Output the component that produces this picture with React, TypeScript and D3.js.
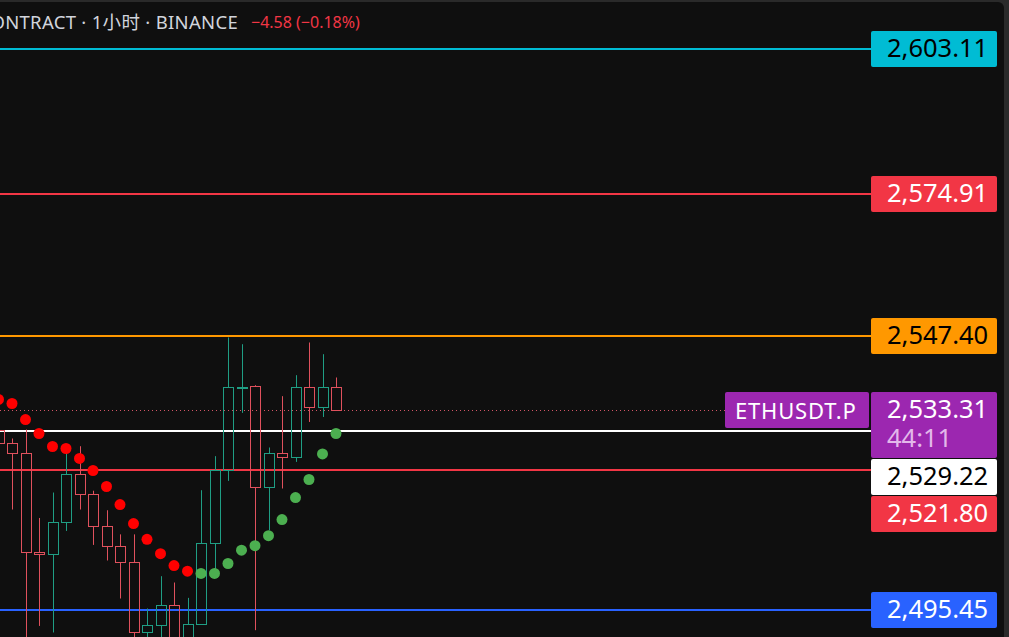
import React from 'react';
import * as d3 from 'd3';

// hourly candles, ETHUSDT.P perpetual
const opens = [2529.59, 2526.93, 2525.03, 2506.39, 2506.05, 2512.13, 2521.04, 2517.43, 2511.22, 2507.49, 2504.52, 2491.23, 2492.54, 2496.30, 2489.41, 2492.73, 2508.13, 2521.90, 2537.61, 2537.86, 2518.76, 2525.03, 2524.38, 2537.72, 2533.91, 2537.72];
const highs = [2532.40, 2527.88, 2529.59, 2512.80, 2517.62, 2525.98, 2526.41, 2517.96, 2514.26, 2509.70, 2509.70, 2495.74, 2501.81, 2500.62, 2497.73, 2518.06, 2524.52, 2547.18, 2545.89, 2538.05, 2526.17, 2535.95, 2539.96, 2546.22, 2543.98, 2539.52];
const lows = [2524.80, 2514.40, 2488.85, 2492.46, 2491.23, 2510.35, 2514.40, 2507.71, 2504.77, 2497.61, 2488.29, 2487.91, 2488.85, 2486.97, 2487.91, 2492.73, 2502.94, 2519.83, 2532.76, 2491.66, 2510.46, 2518.38, 2523.43, 2531.03, 2531.98, 2533.31];
const closes = [2526.93, 2525.03, 2506.39, 2506.05, 2512.13, 2521.04, 2517.43, 2511.22, 2507.49, 2504.52, 2491.23, 2492.54, 2496.30, 2489.41, 2492.73, 2508.13, 2521.90, 2537.61, 2537.75, 2518.76, 2525.03, 2524.38, 2537.72, 2533.91, 2537.72, 2533.31];

// parabolic SAR dots
const sar = [2535.32, 2534.55, 2531.48, 2528.83, 2526.36, 2525.98, 2524.08, 2521.80, 2518.76, 2515.34, 2511.74, 2508.76, 2506.05, 2503.82, 2502.75, 2502.32, 2502.32, 2504.20, 2506.72, 2507.56, 2509.46, 2512.50, 2516.67, 2520.09, 2524.95, 2528.83];

// horizontal levels
const levelPrices = [2603.11, 2574.91, 2547.40, 2529.22, 2521.80, 2495.45];
const levelColors = ['#00bcd4', '#f23645', '#ff9800', '#ffffff', '#f23645', '#2962ff'];
const levelTextColors = ['#000000', '#ffffff', '#000000', '#000000', '#ffffff', '#ffffff'];

const symbol = 'ETHUSDT.P';
const lastPrice = 2533.31;
const countdown = '44:11';
const headerTitle = 'ETHUSDT PERPETUAL CONTRACT · 1小时 · BINANCE';
const headerChange = '−4.58 (−0.18%)';

const W = 1009;
const H = 637;
const FONT = '"Noto Sans", "Noto Sans CJK SC", sans-serif';
const UP = '#1f9e84';
const DOWN = '#e0515d';
const labelLeft = 871;
const labelRight = 997;
const labelH = 36;

const fmt = d3.format(',.2f');

export default function App() {
  const y = d3.scaleLog().domain([2495.45, 2603.11]).range([610, 49]);
  const x = d3.scaleLinear().domain([0, opens.length - 1]).range([-1.5, 336]);
  const bodyW = 10;

  // price labels, pushed down when they collide
  type Lbl = { top: number; h: number; price: number; fill: string; text: string; last?: boolean };
  const lbls: Lbl[] = levelPrices.map((p, i) => ({
    top: Math.round(y(p)) - 18, h: labelH, price: p, fill: levelColors[i], text: levelTextColors[i],
  }));
  lbls.push({ top: Math.round(y(lastPrice)) - 18, h: 66, price: lastPrice, fill: '#9c27b0', text: '#ffffff', last: true });
  lbls.sort((a, b) => a.top - b.top);
  for (let i = 1; i < lbls.length; i++) {
    const prevBottom = lbls[i - 1].top + lbls[i - 1].h + 1;
    if (lbls[i].top < prevBottom) lbls[i].top = prevBottom;
  }

  const yLast = Math.round(y(lastPrice)) + 0.5;

  return (
    <div style={{ position: 'fixed', left: 0, top: 0, width: W, height: H, background: '#2a2a2a' }}>
      <svg width={W} height={H} style={{ display: 'block' }} fontFamily={FONT}>
        <rect x={-10} y={2} width={1014} height={H + 20} rx={6} fill="#0f0f0f" />

        {levelPrices.map((p, i) => (
          <line key={'lv' + i} x1={0} x2={labelLeft} y1={Math.round(y(p))} y2={Math.round(y(p))} stroke={levelColors[i]} strokeWidth={2} />
        ))}

        <line x1={0} x2={labelLeft} y1={yLast} y2={yLast} stroke="#d25566" strokeWidth={1} strokeDasharray="1 3" />

        {opens.map((o, i) => {
          const c = closes[i];
          const col = c >= o ? UP : DOWN;
          const cx = Math.round(x(i)) + 0.5;
          const top = Math.round(y(Math.max(o, c))) + 0.5;
          const bot = Math.round(y(Math.min(o, c))) + 0.5;
          return (
            <g key={'c' + i} stroke={col} strokeWidth={1} fill="none">
              <line x1={cx} x2={cx} y1={y(highs[i])} y2={top} />
              <line x1={cx} x2={cx} y1={bot} y2={y(lows[i])} />
              <rect x={cx - bodyW / 2} y={top} width={bodyW} height={Math.max(1, bot - top)} />
            </g>
          );
        })}

        {sar.map((s, i) => (
          <circle key={'s' + i} cx={x(i)} cy={y(s)} r={5.5} fill={s > closes[i] ? '#ff0000' : '#4caf50'} />
        ))}

        {/* symbol tag */}
        <rect x={725} y={Math.round(y(lastPrice)) - 18} width={144} height={36} rx={2} fill="#9c27b0" />
        <text x={735} y={Math.round(y(lastPrice)) + 9} fontSize={22} letterSpacing={0.8} fill="#ffffff">{symbol}</text>

        {lbls.map((l, i) => (
          <g key={'pl' + i}>
            <rect x={labelLeft} y={l.top} width={labelRight - labelLeft} height={l.h} rx={2} fill={l.fill} />
            <text x={887} y={l.top + 25.5} fontSize={25.5} fill={l.text}>{fmt(l.price)}</text>
            {l.last && (
              <text x={887} y={l.top + 55} fontSize={25.5} fill="#e3b8ea">{countdown}</text>
            )}
          </g>
        ))}

        <text x={238} y={29} fontSize={18.5} letterSpacing={0.3} textAnchor="end" fill="#d1d4dc">{headerTitle}</text>
        <text x={251} y={28} fontSize={16} fill="#f23645">{headerChange}</text>
      </svg>
    </div>
  );
}
